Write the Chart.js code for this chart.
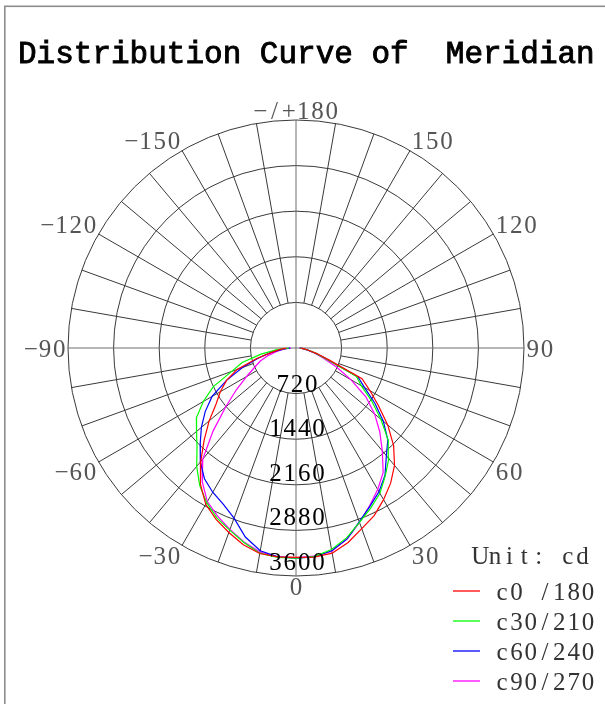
<!DOCTYPE html>
<html>
<head>
<meta charset="utf-8">
<script src="https://cdn.jsdelivr.net/npm/chart.js@4.4.0/dist/chart.umd.min.js"></script>
<style>
  body { margin: 0; background: #fff; }
  #wrap { width: 605px; height: 704px; }
</style>
</head>
<body>
<div id="wrap"><canvas id="chart" width="605" height="704"></canvas></div>
<script>
// gamma angles (0 = straight down, + to the right)
const gammaAngles = [-90,-85,-80,-75,-70,-65,-60,-55,-50,-45,-40,-35,-30,-25,-20,-15,-10,-5,0,
                     5,10,15,20,25,30,35,40,45,50,55,60,65,70,75,80,85,90];

const c0_180  = [150,250,380,640,990,1210,1380,1540,1790,2050,2340,2630,2850,2985,3100,3215,3295,3310,3305,
                 3315,3290,3180,3035,2920,2765,2605,2420,2180,1890,1590,1350,1150,560,340,200,120,70];
const c30_210 = [110,300,560,880,1080,1440,1690,1920,2050,2210,2440,2650,2820,2960,3060,3180,3290,3320,3320,
                 3306,3230,3100,2930,2790,2650,2460,2280,2060,1750,1460,1190,1050,500,330,200,110,60];
const c60_240 = [90,200,400,620,900,1210,1530,1750,1950,2140,2350,2520,2630,2720,2860,3090,3250,3310,3320,
                 3310,3250,3120,2920,2760,2620,2450,2220,2050,1800,1520,1250,1080,520,320,190,110,60];
const c90_270 = [80,200,310,450,600,720,900,1150,1450,1850,2290,2580,2800,2930,3050,3170,3270,3310,3310,
                 3300,3260,3120,2930,2750,2580,2400,2120,1870,1620,1350,1000,700,450,300,180,100,50];

const seriesLabels = ['c0 /180', 'c30/210', 'c60/240', 'c90/270'];
const seriesColors = ['#ff0000', '#00ff00', '#0000ff', '#ff00ff'];

const ringValues = [720, 1440, 2160, 2880, 3600];
const angleTicks = [0, 30, 60, 90, 120, 150, 180, -150, -120, -90, -60, -30];
const angleTickLabels = ['0', '30', '60', '90', '120', '150', '-/+180', '-150', '-120', '-90', '-60', '-30'];

const titleText = 'Distribution Curve of  Meridian';
const unitText = 'Unit: cd';
const maxValue = 3600;

function toXY(angle, value) {
  const rad = angle * Math.PI / 180;
  return { x: value * Math.sin(rad), y: -value * Math.cos(rad) };
}

// draw text as fixed-width cells, like the half-width font of the original
function drawCells(ctx, text, left, baseline, cell) {
  ctx.textAlign = 'center';
  ctx.textBaseline = 'alphabetic';
  for (let i = 0; i < text.length; i++) {
    let ch = text[i];
    if (ch === '-') ch = '\u2212';
    ctx.fillText(ch, left + cell * (i + 0.5), baseline);
  }
}

function sgn(v) {
  return Math.abs(v) < 1e-6 ? 0 : Math.sign(v);
}

const polarGrid = {
  id: 'polarGrid',
  beforeDraw(chart) {
    const ctx = chart.ctx;
    ctx.save();
    ctx.fillStyle = '#fff';
    ctx.fillRect(0, 0, chart.width, chart.height);
    ctx.strokeStyle = '#8c8c8c';
    ctx.lineWidth = 1.6;
    ctx.strokeRect(4.8, 6.3, 800, 900);
    ctx.restore();
  },
  beforeDatasetsDraw(chart) {
    const ctx = chart.ctx;
    const xs = chart.scales.x, ys = chart.scales.y;
    const cx = xs.getPixelForValue(0), cy = ys.getPixelForValue(0);
    const k = (xs.getPixelForValue(maxValue) - cx) / maxValue;
    const rIn = ringValues[0] * k, rOut = maxValue * k;
    ctx.save();
    ctx.strokeStyle = '#3a3a3a';
    ctx.lineWidth = 1;
    ringValues.forEach(v => {
      ctx.beginPath();
      ctx.arc(cx, cy, v * k, 0, Math.PI * 2);
      ctx.stroke();
    });
    for (let a = 0; a < 360; a += 10) {
      if (a % 90 === 0) continue;
      const rad = a * Math.PI / 180;
      const dx = Math.sin(rad), dy = Math.cos(rad);
      ctx.beginPath();
      ctx.moveTo(cx + dx * rIn, cy + dy * rIn);
      ctx.lineTo(cx + dx * rOut, cy + dy * rOut);
      ctx.stroke();
    }
    // cross through the centre
    ctx.strokeStyle = '#6e6e6e';
    ctx.beginPath();
    ctx.moveTo(cx - rOut, cy); ctx.lineTo(cx + rOut, cy);
    ctx.moveTo(cx, cy - rOut); ctx.lineTo(cx, cy + rOut);
    ctx.stroke();
    ctx.restore();
  },
  afterDatasetsDraw(chart) {
    const ctx = chart.ctx;
    const xs = chart.scales.x, ys = chart.scales.y;
    const cx = xs.getPixelForValue(0), cy = ys.getPixelForValue(0);
    const k = (xs.getPixelForValue(maxValue) - cx) / maxValue;
    const rOut = maxValue * k;
    const cell = 14.3, h = 17;
    ctx.save();
    ctx.font = '25px "Liberation Serif"';

    // angle labels
    ctx.fillStyle = '#555';
    angleTicks.forEach((a, i) => {
      const txt = angleTickLabels[i];
      const w = txt.length * cell;
      const rad = a * Math.PI / 180;
      const dx = Math.sin(rad), dy = Math.cos(rad);
      const r = rOut + 1.5;
      const px = cx + dx * r + sgn(dx) * w / 2;
      const py = cy + dy * r + sgn(dy) * h / 2;
      drawCells(ctx, txt, px - w / 2, py + h / 2, cell);
    });

    // ring values
    ctx.fillStyle = '#000';
    ringValues.forEach((v, i) => {
      const txt = String(v);
      const w = txt.length * cell;
      drawCells(ctx, txt, cx - w / 2 + 1, cy + v * k - 2 - i, cell);
    });

    // title
    ctx.font = '31px "Liberation Mono"';
    ctx.textAlign = 'left';
    ctx.textBaseline = 'alphabetic';
    ctx.fillStyle = '#000';
    ctx.strokeStyle = '#000';
    ctx.lineWidth = 0.9;
    ctx.fillText(titleText, 18, 63);
    ctx.strokeText(titleText, 18, 63);

    // legend
    ctx.font = '25px "Liberation Serif"';
    ctx.fillStyle = '#333';
    drawCells(ctx, unitText, 473, 564, 14.6);
    chart.data.datasets.forEach((ds, i) => {
      const y = 591 + i * 30;
      ctx.strokeStyle = ds.borderColor;
      ctx.lineWidth = 1.3;
      ctx.beginPath();
      ctx.moveTo(453, y); ctx.lineTo(480, y);
      ctx.stroke();
      ctx.fillStyle = '#333';
      drawCells(ctx, ds.label, 495, y + 8.5, cell);
    });
    ctx.restore();
  }
};

const allSeries = [c0_180, c30_210, c60_240, c90_270];

const ctx = document.getElementById('chart').getContext('2d');
const chart = new Chart(ctx, {
  type: 'scatter',
  data: {
    datasets: allSeries.map((vals, i) => ({
      label: seriesLabels[i],
      data: gammaAngles.map((a, j) => toXY(a, vals[j])),
      showLine: true,
      borderColor: seriesColors[i],
      backgroundColor: seriesColors[i],
      borderWidth: 1.2,
      pointRadius: 0,
      tension: 0,
      fill: false
    }))
  },
  options: {
    responsive: false,
    maintainAspectRatio: false,
    animation: false,
    layout: { padding: { left: 68, top: 120, right: 81, bottom: 128 } },
    scales: {
      x: { type: 'linear', min: -maxValue, max: maxValue, display: false },
      y: { type: 'linear', min: -maxValue, max: maxValue, display: false }
    },
    plugins: {
      legend: { display: false },
      tooltip: { enabled: false }
    }
  },
  plugins: [polarGrid]
});
</script>
</body>
</html>
